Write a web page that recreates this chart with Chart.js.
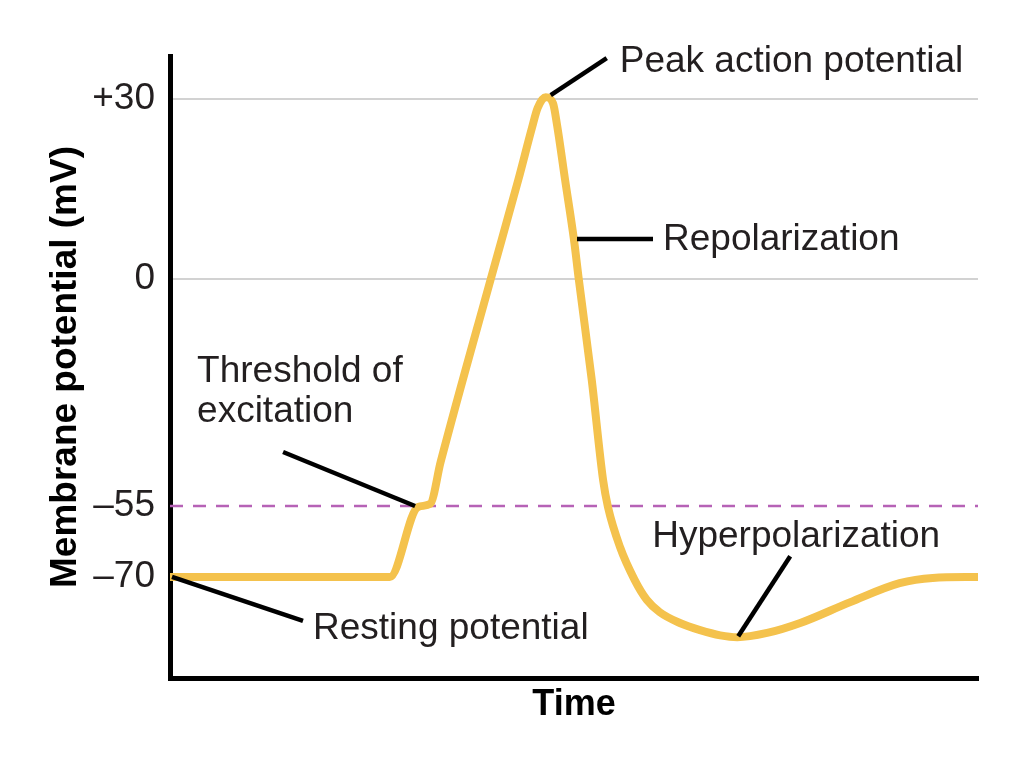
<!DOCTYPE html>
<html lang="en">
<head>
<meta charset="UTF-8">
<title>Action potential</title>
<script src="https://cdn.jsdelivr.net/npm/chart.js"></script>
<style>
  body { margin: 0; background: #fff; }
  canvas { display: block; }
</style>
</head>
<body>
<canvas id="apChart" width="1020" height="758"></canvas>
<script>
// time in arbitrary units (0-100), membrane potential in mV
const timeUnits = [0, 27.2, 30.7, 32.2, 33.5, 39.7, 43.1, 44.8, 45.5, 46.5, 47.4, 47.9, 48.9,
  50.0, 50.6, 52.2, 53.6, 54.2, 55.7, 57.5, 59.0, 60.6, 63.1, 65.6, 68.1, 70.2, 73.9, 78.0,
  84.2, 90.3, 94.4, 100];
const membraneMv = [-70, -70, -55.2, -54.5, -44.3, 0, 16.5, 25.2, 28.5, 30.3, 29.3, 25.7, 16.5,
  6.5, -0.2, -24.5, -48.7, -55.2, -63.7, -70.6, -74.8, -77.4, -79.7, -81.2, -82.3, -82.7,
  -81.8, -79.7, -75.3, -71.3, -70.2, -70];
const thresholdTime = [0, 100];
const thresholdMv = [-55, -55];

const yTickValues = [30, 0, -55, -70];
const yTickLabels = ['+30', '0', '–55', '–70'];

const calloutText = [
  ['Resting potential'],
  ['Threshold of', 'excitation'],
  ['Peak action potential'],
  ['Repolarization'],
  ['Hyperpolarization']
];
const calloutPoint = [0, 2, 9, 13, 25];   // index into the curve

// the drawing is schematic, the mV axis is not evenly spaced
const axisStops = [-91.3, -70, -55, 0, 30, 37.2];
const axisShare = [0, 0.1624, 0.2765, 0.6415, 0.9309, 1];

function lerpTable(v, from, to) {
  let i = 1;
  while (i < from.length - 1 && v > from[i]) i++;
  const t = (v - from[i - 1]) / (from[i] - from[i - 1]);
  return to[i - 1] + t * (to[i] - to[i - 1]);
}

class SchematicScale extends Chart.LinearScale {
  static id = 'schematic';
  getPixelForValue(value) {
    if (value === null || value === undefined) return NaN;
    const f = lerpTable(value, axisStops, axisShare);
    return this.bottom - f * (this.bottom - this.top);
  }
  getValueForPixel(pixel) {
    const f = (this.bottom - pixel) / (this.bottom - this.top);
    return lerpTable(f, axisShare, axisStops);
  }
}
Chart.register(SchematicScale);

const FONT = "'Liberation Sans', Arial, Helvetica, sans-serif";
const TEXT = '#231f20';

// leader line (x1, y1, x2, y2) and text origin, in px from the curve point
const calloutLayout = [
  { line: [2, 0, 133, 44], text: [143, 62] },
  { line: [-3, -1, -135, -55], text: [-221, -125] },
  { line: [5, -2, 61, -39], text: [74, -25] },
  { line: [3, -1, 79, -1], text: [89, 10] },
  { line: [1, -1, 53, -81], text: [-85, -90] }
];

const calloutPlugin = {
  id: 'callouts',
  afterDatasetsDraw(chart) {
    const ctx = chart.ctx;
    const pts = chart.getDatasetMeta(0).data;
    ctx.save();
    calloutText.forEach((lines, k) => {
      const p = pts[calloutPoint[k]];
      const lay = calloutLayout[k];
      ctx.strokeStyle = '#000';
      ctx.lineWidth = 4.5;
      ctx.beginPath();
      ctx.moveTo(p.x + lay.line[0], p.y + lay.line[1]);
      ctx.lineTo(p.x + lay.line[2], p.y + lay.line[3]);
      ctx.stroke();
      ctx.fillStyle = TEXT;
      ctx.font = '37px ' + FONT;
      ctx.textAlign = 'left';
      ctx.textBaseline = 'alphabetic';
      lines.forEach((s, j) => {
        ctx.fillText(s, p.x + lay.text[0], p.y + lay.text[1] + j * 40);
      });
    });
    ctx.restore();
  }
};

Chart.defaults.font.family = FONT;
Chart.defaults.color = TEXT;

new Chart(document.getElementById('apChart'), {
  type: 'line',
  data: {
    datasets: [
      {
        label: 'Membrane potential',
        data: timeUnits.map((t, i) => ({ x: t, y: membraneMv[i] })),
        borderColor: '#f4c24d',
        borderWidth: 8,
        borderCapStyle: 'round',
        borderJoinStyle: 'round',
        cubicInterpolationMode: 'monotone',
        pointRadius: 0,
        fill: false
      },
      {
        label: 'Threshold',
        data: thresholdTime.map((t, i) => ({ x: t, y: thresholdMv[i] })),
        borderColor: '#b662b6',
        borderWidth: 2.5,
        borderDash: [13, 10],
        pointRadius: 0,
        fill: false
      }
    ]
  },
  options: {
    responsive: false,
    animation: false,
    events: [],
    layout: { padding: { left: 40, top: 56, right: 42, bottom: 31 } },
    plugins: {
      legend: { display: false },
      tooltip: { enabled: false }
    },
    scales: {
      x: {
        type: 'linear',
        min: 0,
        max: 100,
        grid: { display: false, drawTicks: false },
        border: { color: '#000', width: 5 },
        ticks: { display: false },
        title: {
          display: true,
          text: 'Time',
          font: { size: 36, weight: 'bold' },
          color: '#000',
          padding: { top: 0, bottom: 0 }
        },
        afterFit(scale) { scale.height = 49; }
      },
      y: {
        type: 'schematic',
        min: -91.3,
        max: 37.2,
        afterBuildTicks(scale) {
          scale.ticks = yTickValues.map(v => ({ value: v }));
        },
        ticks: {
          autoSkip: false,
          padding: 15,
          font: { size: 37 },
          color: TEXT,
          callback: (value) => yTickLabels[yTickValues.indexOf(value)]
        },
        grid: {
          drawTicks: false,
          lineWidth: 2,
          color: (c) => (c.tick && (c.tick.value === 30 || c.tick.value === 0)) ? '#d2d2d2' : 'rgba(0,0,0,0)'
        },
        border: { color: '#000', width: 5 },
        title: {
          display: true,
          text: 'Membrane potential (mV)',
          font: { size: 37, weight: 'bold' },
          color: '#000',
          padding: { top: 4, bottom: 0 }
        },
        afterFit(scale) { scale.width = 130; }
      }
    }
  },
  plugins: [calloutPlugin]
});
</script>
</body>
</html>
